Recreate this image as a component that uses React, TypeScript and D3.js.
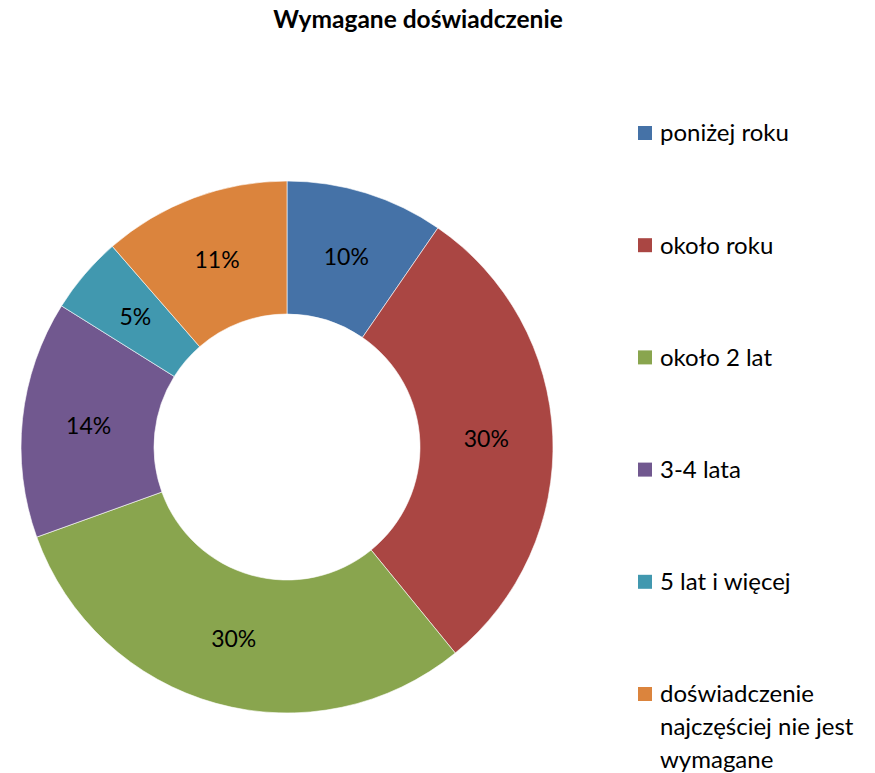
import React, { useEffect, useRef } from 'react'
import * as d3 from 'd3'

const title = 'Wymagane doświadczenie'
const categories = ['poniżej roku', 'około roku', 'około 2 lat', '3-4 lata', '5 lat i więcej', 'doświadczenie najczęściej nie jest wymagane']
const legendLines = [['poniżej roku'], ['około roku'], ['około 2 lat'], ['3-4 lata'], ['5 lat i więcej'], ['doświadczenie', 'najczęściej nie jest', 'wymagane']]
const values = [9.6, 29.5, 30.4, 14.4, 4.7, 11.4]
const colors = ['#4572A7', '#AA4643', '#89A54E', '#71588F', '#4198AF', '#DB843D']

const W = 875
const H = 773
const FONT = 'Lato, Carlito, Calibri, sans-serif'

export default function App() {
  const ref = useRef<SVGSVGElement>(null)

  useEffect(() => {
    const svg = d3.select(ref.current)
    svg.selectAll('*').remove()

    svg.append('text')
      .attr('x', 418).attr('y', 28)
      .attr('text-anchor', 'middle')
      .attr('font-family', FONT)
      .attr('font-weight', 'bold')
      .attr('font-size', 24.5)
      .text(title)

    const cx = 287, cy = 447
    const outer = 266, inner = 133

    const pie = d3.pie<number>().sort(null).value(d => d)
    const arcs = pie(values)
    const arc = d3.arc<d3.PieArcDatum<number>>().innerRadius(inner).outerRadius(outer)

    const g = svg.append('g').attr('transform', `translate(${cx},${cy})`)

    g.selectAll('path')
      .data(arcs).enter().append('path')
      .attr('d', arc)
      .attr('fill', (d, i) => colors[i])
      .attr('stroke', '#fff')
      .attr('stroke-width', 0.6)

    g.selectAll('text.lbl')
      .data(arcs).enter().append('text')
      .attr('class', 'lbl')
      .attr('transform', d => `translate(${arc.centroid(d)})`)
      .attr('text-anchor', 'middle')
      .attr('dy', '0.35em')
      .attr('font-family', FONT)
      .attr('font-size', 23)
      .attr('fill', '#000')
      .text(d => Math.round(d.data) + '%')

    // legend
    const legendY = d3.scaleLinear().domain([0, categories.length - 1]).range([133, 694])
    const lg = svg.append('g')
    categories.forEach((c, i) => {
      const y = legendY(i)
      lg.append('rect')
        .attr('x', 638).attr('y', y - 7)
        .attr('width', 14).attr('height', 14)
        .attr('fill', colors[i])
      const t = lg.append('text')
        .attr('x', 660).attr('y', y)
        .attr('font-family', FONT)
        .attr('font-size', 24)
        .attr('fill', '#000')
      legendLines[i].forEach((line, j) => {
        t.append('tspan')
          .attr('x', 660)
          .attr('y', y + j * 33)
          .attr('dy', '0.35em')
          .text(line)
      })
    })
  }, [])

  return (
    <svg ref={ref} width={W} height={H} style={{ display: 'block', position: 'absolute', left: 0, top: 0, background: '#fff' }}></svg>
  )
}
